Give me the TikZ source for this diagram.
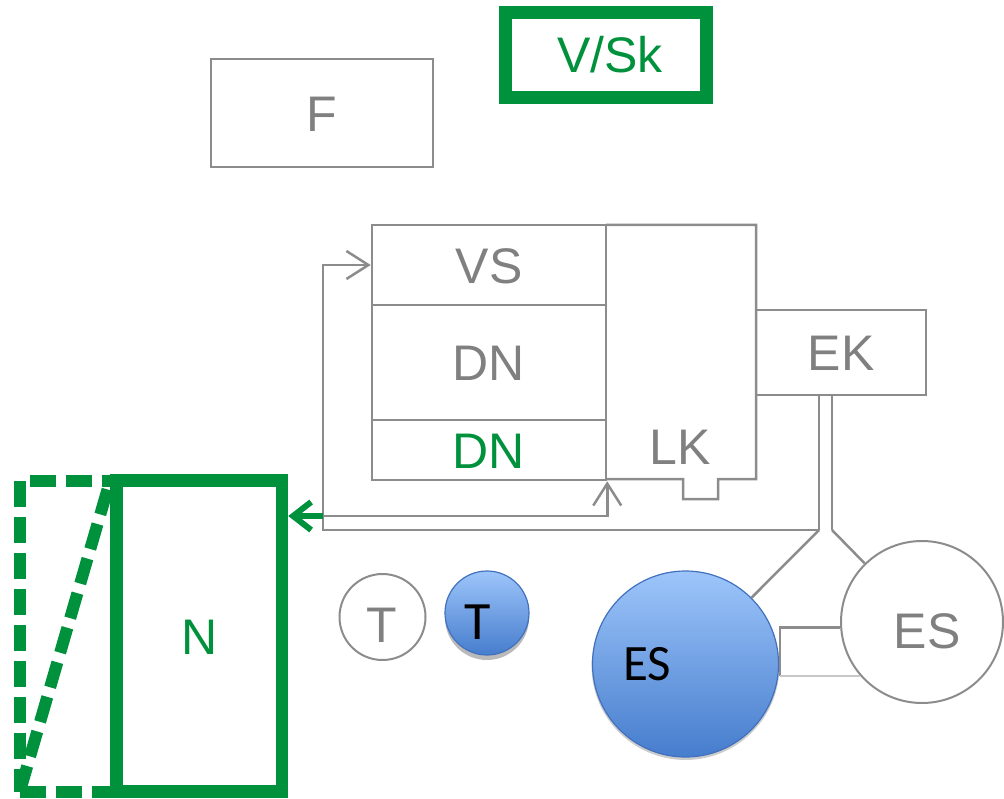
\documentclass[tikz,border=0pt]{standalone}
\usepackage{fontspec}
\setmainfont{Liberation Sans}
\newfontfamily\calib{Carlito}
\usetikzlibrary{arrows.meta,shadows,calc}
\definecolor{gl}{RGB}{140,140,140}
\definecolor{gl2}{RGB}{200,200,200}
\definecolor{gt}{RGB}{128,128,128}
\definecolor{gr}{RGB}{0,145,60}
\definecolor{btop}{RGB}{157,197,250}
\definecolor{bbot}{RGB}{70,125,205}
\definecolor{bdr}{RGB}{65,113,190}
\begin{document}
\begin{tikzpicture}[x=1pt,y=-1pt,
  gline/.style={draw=gl,line width=2.5pt},
  lbl/.style={inner sep=0pt,font=\fontsize{50}{50}\selectfont,text height=36pt,text depth=0pt},
  gbox/.style={lbl,gline,rectangle,text=gt},
  grbox/.style={lbl,draw=gr,rectangle,text=gr},
  gtext/.style={lbl,text=gt},
  btext/.style={inner sep=0pt,font=\calib\fontsize{51}{51}\selectfont,text height=32pt,text depth=0pt,text=black},
  wcirc/.style={circle,draw=gl,line width=2pt,fill=white,inner sep=0pt},
  bcirc/.style={circle,draw=bdr,line width=1.2pt,top color=btop,bottom color=bbot,inner sep=0pt},
  garrow/.style={-{Straight Barb[length=22pt,width=28pt]}},
  grarrow/.style={draw=gr,line width=6pt,-{Straight Barb[length=18pt,width=28pt]}},
  dashgreen/.style={draw=gr,line width=12pt,dash pattern=on 26pt off 10pt}
]
\useasboundingbox (0,0) rectangle (1004,798);

% top boxes
\node[gbox,minimum width=222pt,minimum height=108pt] (f) at (322,113) {F};
\node[grbox,line width=13pt,minimum width=201pt,minimum height=85pt] (vsk) at (605.5,54.5) {\hspace*{9pt}V/Sk};

% central column
\node[gbox,minimum width=234pt,minimum height=80pt] (vs) at (489,265) {VS};
\node[gbox,minimum width=234pt,minimum height=115pt] (dn1) at (489,362.5) {DN};
\node[gbox,text=gr,minimum width=234pt,minimum height=60pt] (dn2) at (489,450) {DN};
\node[inner sep=0pt,minimum width=150pt,minimum height=254pt] (lk) at (681,352) {};
\draw[gline] (lk.north west) -- (lk.north east) -- (lk.south east) -- (718,479) -- (718,499) -- (683,499) -- (683,479) -- (lk.south west);
\node[gtext] (lkt) at (680,446.5) {LK};
\node[gbox,minimum width=170pt,minimum height=85pt] (ek) at (841,352.5) {EK};

% N boxes
\node[dashgreen,rectangle,inner sep=0pt,minimum width=96.5pt,minimum height=311pt] (nd) at (68.25,636) {};
\draw[dashgreen] (20,791) -- (110,481);
\node[grbox,line width=12.5pt,fill=white,minimum width=165.5pt,minimum height=311pt] (n) at (199.25,636) {N};

% circles
\node[wcirc,minimum size=86pt] (wt) at (382.5,617) {};
\node[gtext] (wtt) at (382,624.5) {T};
\node[bcirc,minimum size=84pt,drop shadow={shadow xshift=0pt,shadow yshift=-5pt,fill=black!45,opacity=.6}] (bt) at (487,613) {};
\node[btext,text height=35pt,font=\calib\fontsize{54}{54}\selectfont] (btt) at (478,622) {T};
\node[bcirc,minimum size=186pt,drop shadow={shadow xshift=0pt,shadow yshift=-2pt,shadow scale=1.01,fill=black!40,opacity=.5}] (esb) at (685.5,664) {};
\node[btext] (esbt) at (647,664) {ES};
\node[wcirc,minimum size=162pt] (wes) at (922,622) {};
\node[gtext] (west) at (927,630) {ES};

% connectors
\coordinate (ja) at (819,530);
\coordinate (jb) at (832,530);
\coordinate (jl) at (323,530);
\coordinate (jm) at (323,516);
\draw[gline] (ek.south -| ja) -- (ja);
\draw[gline] (ek.south -| jb) -- (jb);
\draw[gline,garrow] (ja) -- (jl) -- (jl |- vs.west) -- (vs.west);
\draw[gline,garrow] (jm) -- (jm -| dn2.south east) -- (dn2.south east);
\draw[grarrow] (jm) -- (jm -| n.east);
\draw[gline] (ja) -- (esb);
\draw[gline] (jb) -- (wes);
\draw[gline] (wes.184) -- (wes.184 -| 780,0) -- (wes.221 -| 780,0);
\draw[draw=gl2,line width=2.5pt] (wes.221 -| 780,0) -- (wes.221);
\end{tikzpicture}
\end{document}
